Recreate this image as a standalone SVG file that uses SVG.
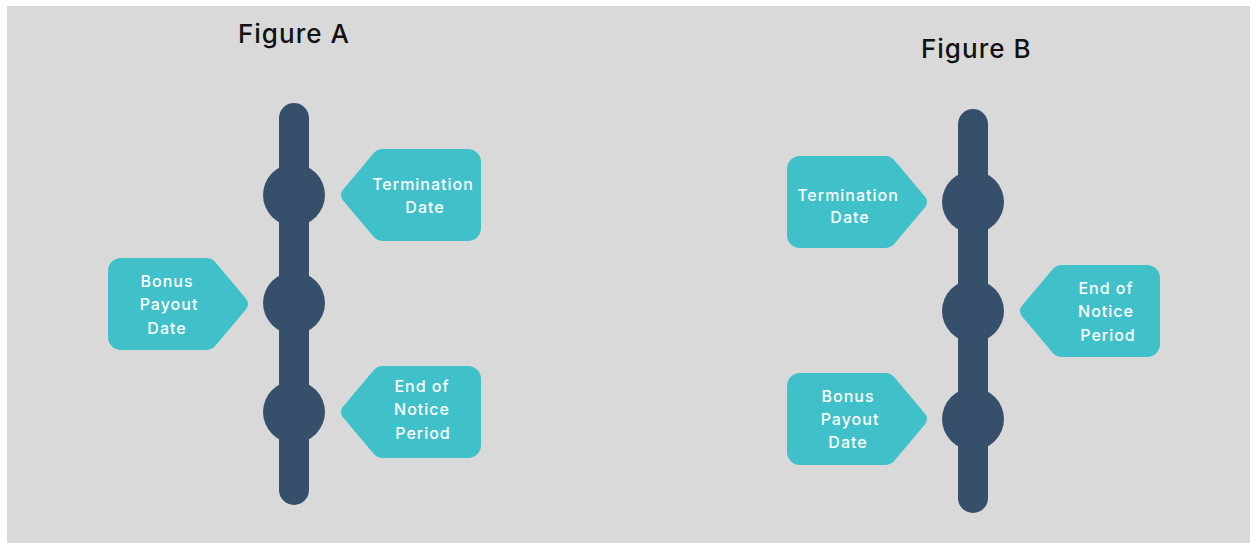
<svg xmlns="http://www.w3.org/2000/svg" xmlns:xlink="http://www.w3.org/1999/xlink" width="1250" height="543" viewBox="0 0 1250 543">
<style>
.bg{fill:#d9d9d9}
.bar{stroke:#364f6b;stroke-width:30;stroke-linecap:round;fill:none}
.dot{fill:#364f6b}
.tag{fill:#40c1ca;stroke:#40c1ca;stroke-width:6;stroke-linejoin:round}
.lbl{font-family:Inter,"Open Sans","Liberation Sans",sans-serif;font-size:16px;fill:#ffffff;text-anchor:middle;font-weight:500;letter-spacing:1px}
.ttl{font-family:Inter,"Open Sans","Liberation Sans",sans-serif;font-size:26px;fill:#111111;font-weight:500;letter-spacing:1px}
</style>
<defs>
<path id="tag" class="tag" d="M13,3 L99,3 Q102,3 104,5 L136,43 Q138,46 136,49 L104,87 Q102,89 99,89 L13,89 A10,10 0 0 1 3,79 L3,13 A10,10 0 0 1 13,3 Z"/>
</defs>
<rect class="bg" x="7" y="6" width="1243" height="537"/>

<g id="figure-a">
<text class="ttl" x="238" y="43">Figure A</text>
<g id="timeline-a">
<line class="bar" x1="294" y1="118" x2="294" y2="490"/>
<circle class="dot" cx="294" cy="195" r="31"/>
<circle class="dot" cx="294" cy="303" r="31"/>
<circle class="dot" cx="294" cy="412" r="31"/>
</g>
<g id="a-termination">
<use xlink:href="#tag" transform="translate(481,149) scale(-1,1)"/>
<text class="lbl" x="423" y="190">Termination</text>
<text class="lbl" x="425" y="213">Date</text>
</g>
<g id="a-bonus">
<use xlink:href="#tag" transform="translate(108,258)"/>
<text class="lbl" x="167" y="287">Bonus</text>
<text class="lbl" x="169" y="310">Payout</text>
<text class="lbl" x="167" y="334">Date</text>
</g>
<g id="a-notice">
<use xlink:href="#tag" transform="translate(481,366) scale(-1,1)"/>
<text class="lbl" x="422" y="392">End of</text>
<text class="lbl" x="422" y="415">Notice</text>
<text class="lbl" x="423" y="439">Period</text>
</g>
</g>

<g id="figure-b">
<text class="ttl" x="921" y="58">Figure B</text>
<g id="timeline-b">
<line class="bar" x1="973" y1="124" x2="973" y2="498"/>
<circle class="dot" cx="973" cy="202" r="31"/>
<circle class="dot" cx="973" cy="311" r="31"/>
<circle class="dot" cx="973" cy="419" r="31"/>
</g>
<g id="b-termination">
<use xlink:href="#tag" transform="translate(787,156)"/>
<text class="lbl" x="848" y="201">Termination</text>
<text class="lbl" x="850" y="223">Date</text>
</g>
<g id="b-notice">
<use xlink:href="#tag" transform="translate(1160,265) scale(-1,1)"/>
<text class="lbl" x="1106" y="294">End of</text>
<text class="lbl" x="1106" y="317">Notice</text>
<text class="lbl" x="1108" y="341">Period</text>
</g>
<g id="b-bonus">
<use xlink:href="#tag" transform="translate(787,373)"/>
<text class="lbl" x="848" y="402">Bonus</text>
<text class="lbl" x="850" y="425">Payout</text>
<text class="lbl" x="848" y="448">Date</text>
</g>
</g>
</svg>
